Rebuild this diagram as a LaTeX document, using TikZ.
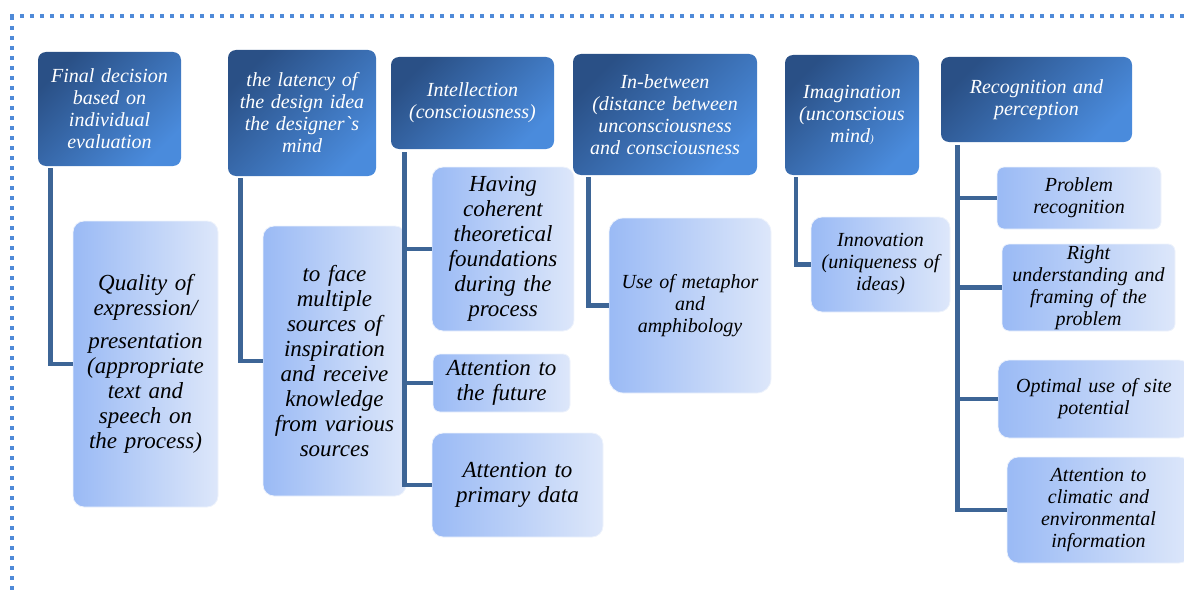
\documentclass[tikz,border=0pt]{standalone}
\usepackage{fontspec}
\setmainfont{Liberation Serif}[Ligatures=TeXOff]
\usetikzlibrary{calc}
\definecolor{hdA}{HTML}{2A5086}
\definecolor{hdB}{HTML}{4A8BDC}
\definecolor{chA}{HTML}{9ABAF5}
\definecolor{chB}{HTML}{DDE7FA}
\definecolor{connc}{HTML}{3D6596}
\definecolor{dotc}{HTML}{4F8AD8}
\begin{document}
\begin{tikzpicture}[x=1pt,y=-1pt,
 hdr/.style={rounded corners=8pt, top color=hdA, bottom color=hdB, shading angle=45, text=white, align=center, inner sep=0pt, font=\fontsize{20}{22}\selectfont\itshape},
 chld/.style={rounded corners=11pt, left color=chA, right color=chB, draw=chB!50!white, line width=0.8pt, align=center, inner sep=0pt, font=\fontsize{20}{22}\selectfont\itshape},
 big/.style={font=\fontsize{23}{25}\selectfont\itshape},
 link/.style={draw=connc, line width=4.5pt},
 dotline/.style={draw=dotc, line width=4pt, dash pattern=on 4pt off 6pt}]
\useasboundingbox (0,0) rectangle (1184,594);
\draw[dotline] (10,16) -- (1190,16);
\draw[dotline] (11.5,16) -- (11.5,600);
% headers
\node[hdr, minimum width=143pt, minimum height=114pt, text width=135pt] (h1) at (109.5,109) {Final decision\\ based on\\ individual\\ evaluation};
\node[hdr, minimum width=148pt, minimum height=126pt, text width=140pt] (h2) at (302,113) {the latency of\\ the design idea\\ the designer`s\\ mind};
\node[hdr, minimum width=163pt, minimum height=92pt, text width=155pt] (h3) at (472.5,103) {Intellection\\ (consciousness)};
\node[hdr, minimum width=184pt, minimum height=121pt, text width=176pt] (h4) at (665,114.5) {In-between\\ (distance between\\ unconsciousness\\ and consciousness};
\node[hdr, minimum width=134pt, minimum height=120pt, text width=128pt] (h5) at (852,115) {Imagination\\ (unconscious\\ mind{\fontsize{11}{11}\selectfont)}};
\node[hdr, minimum width=191pt, minimum height=85pt, text width=183pt] (h6) at (1036.5,99.5) {Recognition and\\ perception};
% children
\node[chld, big, minimum width=145pt, minimum height=286pt, text width=139pt] (c1) at (145.5,364) {Quality of\\ expression/\\[8pt] presentation\\ (appropriate\\ text and\\ speech on\\ the process)};
\node[chld, big, minimum width=143pt, minimum height=270pt, text width=137pt] (c2) at (334.5,361) {to face\\ multiple\\ sources of\\ inspiration\\ and receive\\ knowledge\\ from various\\ sources};
\node[chld, big, minimum width=142pt, minimum height=164pt, text width=136pt] (c3a) at (503,249) {Having\\ coherent\\ theoretical\\ foundations\\ during the\\ process};
\node[chld, big, minimum width=137pt, minimum height=58pt, text width=133pt, rounded corners=7pt] (c3b) at (501.5,383) {Attention to\\ the future};
\node[chld, big, minimum width=171pt, minimum height=104pt, text width=165pt] (c3c) at (517.5,485) {Attention to\\ primary data};
\node[chld, minimum width=162pt, minimum height=175pt, text width=156pt, rounded corners=14pt] (c4) at (690,305.5) {Use of metaphor\\ and\\ amphibology};
\node[chld, minimum width=139pt, minimum height=95pt, text width=135pt] (c5) at (880.5,264.5) {Innovation\\ (uniqueness of\\ ideas)};
\node[chld, minimum width=164pt, minimum height=62pt, text width=160pt, rounded corners=7pt] (c6a) at (1079,198) {Problem\\ recognition};
\node[chld, minimum width=173pt, minimum height=87pt, text width=169pt, rounded corners=7pt] (c6b) at (1088.5,287.5) {Right\\ understanding and\\ framing of the\\ problem};
\node[chld, minimum width=192pt, minimum height=78pt, text width=186pt] (c6c) at (1094,399) {Optimal use of site\\ potential};
\node[chld, minimum width=183pt, minimum height=106pt, text width=177pt] (c6d) at (1098.5,510) {Attention to\\ climatic and\\ environmental\\ information};
% connectors
\draw[link] ($(h1.south west)+(12.7,2)$) |- (c1.west);
\draw[link] ($(h2.south west)+(12.7,2)$) |- (c2.west);
\draw[link] ($(h3.south west)+(13.5,3)$) |- (c3a.west);
\draw[link] ($(h3.south west)+(13.5,3)$) |- (c3b.west);
\draw[link] ($(h3.south west)+(13.5,3)$) |- (c3c.west);
\draw[link] ($(h4.south west)+(15.5,2)$) |- (c4.west);
\draw[link] ($(h5.south west)+(11,2)$) |- (c5.west);
\draw[link] ($(h6.south west)+(16.7,3)$) |- (c6a.west);
\draw[link] ($(h6.south west)+(16.7,3)$) |- (c6b.west);
\draw[link] ($(h6.south west)+(16.7,3)$) |- (c6c.west);
\draw[link] ($(h6.south west)+(16.7,3)$) |- (c6d.west);
\end{tikzpicture}
\end{document}
